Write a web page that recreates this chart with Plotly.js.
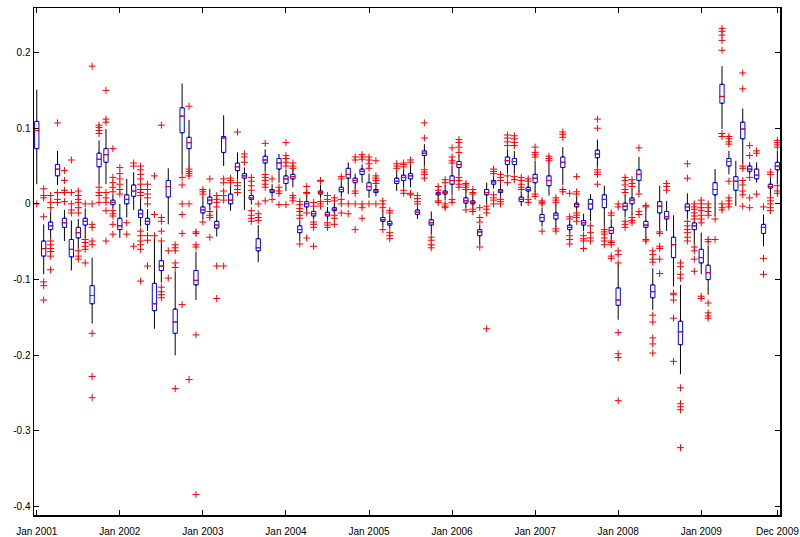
<!DOCTYPE html>
<html>
<head>
<meta charset="utf-8">
<script src="https://cdn.plot.ly/plotly-3.0.1.min.js"></script>
<style>html,body{margin:0;padding:0;background:#fff;}#chart{width:800px;height:537px;}</style>
</head>
<body>
<div id="chart"></div>
<script>
// Monthly box statistics, Jan 2001 (index 0) .. Dec 2009 (index 107)
const q1 = [0.073,-0.069,-0.034,0.037,-0.031,-0.070,-0.045,-0.028,-0.132,0.049,0.055,-0.001,
-0.034,0.000,0.010,-0.018,-0.027,-0.141,-0.088,0.009,-0.171,0.094,0.073,-0.107,
-0.012,0.000,-0.032,0.068,0.000,0.044,0.034,0.006,-0.062,0.054,0.015,0.046,
0.027,0.033,-0.038,-0.004,-0.016,0.013,-0.016,-0.009,0.016,0.034,0.028,0.039,
0.018,0.015,-0.023,-0.028,0.027,0.031,0.033,-0.014,0.064,-0.028,0.012,0.013,
0.026,0.048,0.001,0.000,-0.042,0.012,0.026,0.015,0.052,0.052,0.003,0.017,
0.028,-0.023,0.024,-0.020,0.048,-0.034,-0.004,-0.028,-0.007,0.061,-0.005,-0.039,
-0.134,-0.008,0.000,0.031,-0.031,-0.124,-0.012,-0.020,-0.071,-0.186,-0.009,-0.034,
-0.078,-0.100,0.012,0.133,0.050,0.018,0.086,0.043,0.033,-0.039,0.021,0.045];
const median = [0.097,-0.059,-0.029,0.046,-0.025,-0.060,-0.038,-0.023,-0.121,0.059,0.065,0.002,
-0.029,0.006,0.017,-0.013,-0.023,-0.132,-0.082,0.023,-0.156,0.116,0.081,-0.101,
-0.008,0.005,-0.028,0.087,0.005,0.049,0.037,0.008,-0.058,0.058,0.017,0.054,
0.033,0.036,-0.034,0.000,-0.013,0.015,-0.014,-0.007,0.019,0.039,0.031,0.043,
0.023,0.017,-0.021,-0.026,0.030,0.035,0.037,-0.011,0.067,-0.025,0.013,0.015,
0.031,0.052,0.004,0.002,-0.037,0.015,0.029,0.017,0.057,0.056,0.006,0.019,
0.034,-0.018,0.031,-0.015,0.055,-0.031,-0.001,-0.025,0.000,0.066,0.006,-0.035,
-0.127,-0.003,0.005,0.039,-0.028,-0.116,-0.003,-0.017,-0.054,-0.169,-0.004,-0.029,
-0.071,-0.091,0.019,0.142,0.056,0.030,0.099,0.046,0.038,-0.031,0.023,0.050];
const q3 = [0.109,-0.049,-0.024,0.052,-0.019,-0.047,-0.031,-0.019,-0.108,0.067,0.073,0.005,
-0.019,0.012,0.025,-0.008,-0.019,-0.105,-0.075,0.031,-0.139,0.127,0.088,-0.088,
-0.004,0.009,-0.023,0.089,0.013,0.054,0.040,0.011,-0.046,0.063,0.019,0.060,
0.037,0.039,-0.029,0.003,-0.010,0.017,-0.011,-0.005,0.022,0.047,0.034,0.046,
0.028,0.019,-0.018,-0.023,0.034,0.038,0.040,-0.008,0.070,-0.021,0.015,0.017,
0.037,0.056,0.008,0.004,-0.034,0.019,0.031,0.019,0.062,0.060,0.009,0.022,
0.039,-0.014,0.037,-0.012,0.062,-0.028,0.001,-0.022,0.006,0.071,0.012,-0.031,
-0.111,0.001,0.008,0.045,-0.023,-0.107,0.003,-0.010,-0.044,-0.155,0.000,-0.025,
-0.060,-0.081,0.028,0.158,0.060,0.036,0.108,0.050,0.046,-0.027,0.026,0.055];
const lowerWhisker = [0.026,-0.093,-0.045,0.025,-0.049,-0.088,-0.058,-0.045,-0.158,0.026,0.026,-0.006,
-0.045,-0.018,-0.008,-0.030,-0.036,-0.165,-0.104,-0.027,-0.200,0.039,0.048,-0.127,
-0.020,-0.008,-0.043,0.050,-0.009,0.030,-0.008,-0.001,-0.077,0.043,0.010,0.028,
0.017,0.022,-0.049,-0.010,-0.020,0.008,-0.022,-0.013,0.010,0.013,0.020,0.028,
0.008,0.010,-0.030,-0.033,0.017,0.020,0.022,-0.020,0.050,-0.040,0.006,0.005,
0.011,0.038,-0.005,-0.005,-0.054,0.000,0.020,0.008,0.040,0.040,-0.003,0.008,
0.015,-0.030,0.011,-0.031,0.025,-0.040,-0.010,-0.036,-0.023,0.048,-0.030,-0.046,
-0.153,-0.018,-0.015,0.015,-0.045,-0.140,-0.036,-0.036,-0.109,-0.225,-0.020,-0.053,
-0.093,-0.120,-0.016,0.099,0.039,-0.003,0.053,0.039,0.028,-0.056,0.010,0.026];
const upperWhisker = [0.151,-0.027,-0.010,0.070,-0.008,-0.022,-0.020,-0.006,-0.071,0.084,0.099,0.012,
0.000,0.033,0.042,0.008,-0.007,-0.045,-0.050,0.047,-0.089,0.159,0.111,-0.063,
0.010,0.020,-0.008,0.117,0.025,0.068,0.048,0.016,-0.028,0.072,0.026,0.066,
0.045,0.046,-0.022,0.012,-0.005,0.025,-0.004,0.001,0.030,0.055,0.040,0.052,
0.040,0.025,-0.008,-0.015,0.045,0.046,0.052,-0.003,0.079,-0.010,0.017,0.025,
0.050,0.065,0.018,0.010,-0.028,0.028,0.038,0.028,0.072,0.070,0.016,0.028,
0.057,-0.005,0.055,0.000,0.075,-0.022,0.010,-0.013,0.013,0.085,0.024,-0.020,
-0.080,0.012,0.020,0.062,-0.006,-0.085,0.024,0.004,-0.015,-0.107,0.014,-0.022,
-0.038,-0.055,0.046,0.182,0.070,0.057,0.126,0.055,0.055,-0.014,0.035,0.070];
const outliers = [
[0.000],
[0.020,0.011,0.008,-0.017,-0.103,-0.108,-0.127],
[0.011,0.002,-0.005,-0.049,-0.054,-0.059,-0.063,-0.069,-0.087],
[0.107,0.015,0.006,0.002],
[0.044,0.031,0.018,0.015,0.003],
[0.058,0.015,0.000,-0.008,-0.012],
[0.017,0.011,0.006,0.002,-0.005,-0.012,-0.062,-0.069,-0.073],
[0.000,-0.047,-0.051,-0.056,-0.060,-0.078],
[0.182,0.000,-0.027,-0.031,-0.049,-0.054,-0.171,-0.228,-0.256],
[0.104,0.101,0.097,0.093,0.022,0.015,0.011,0.002],
[0.150,0.112,0.108,0.015,0.008,0.002,-0.009,-0.049],
[0.073,0.035,0.028,0.022,0.016,-0.009,-0.013,-0.016,-0.027,-0.040],
[0.048,0.040,0.033,0.026,0.019,0.013],
[-0.025,-0.040],
[0.054,0.050,-0.056],
[0.050,0.045,0.039,0.033,0.026,0.019,0.015,0.011,-0.036,-0.042,-0.049,-0.054,-0.060,-0.102],
[0.026,0.019,0.013,0.008,0.000,-0.042,-0.048,-0.082],
[0.037,-0.014,-0.042],
[0.104,-0.018,-0.023,-0.036,-0.049,-0.110,-0.116,-0.120,-0.124],
[-0.062,-0.098],
[-0.054,-0.058,-0.062,-0.078,-0.084,-0.244],
[0.035,0.025,0.000,-0.014,-0.039,-0.133],
[0.129,0.046,0.043,0.040,0.037,0.000,-0.232],
[-0.037,-0.039,-0.054,-0.057,-0.173,-0.384],
[0.019,0.016,0.013,-0.024],
[0.033,-0.010,-0.015,-0.018,-0.044],
[0.011,0.006,0.002,-0.004,-0.082,-0.125],
[0.033,0.028,0.017,0.011,0.005,-0.082],
[0.034,0.031,0.028],
[0.095,0.028,0.024,0.019,0.015],
[0.066,0.062,0.055],
[0.035,0.030,0.024,0.018,-0.009,-0.015,-0.019,-0.023],
[0.000,-0.013,-0.018,-0.022],
[0.080,0.039,0.035,0.031,0.026,0.022,0.004],
[0.033,0.006],
[0.022,0.017,0.014,-0.001],
[0.081,0.064,0.060,0.055,0.050,-0.001],
[0.054,0.050,0.047,0.011,0.008,0.004],
[0.003,-0.001,-0.006,-0.010,-0.015,-0.019,-0.053],
[0.023,0.015,0.014,-0.012,-0.045],
[0.002,-0.003,-0.024,-0.027,-0.031,-0.056],
[0.031,0.030,0.003,0.000,-0.003],
[0.011,0.006,0.003,-0.025,-0.028,-0.031],
[0.008,0.004,-0.015,-0.019,-0.027],
[0.036,0.033,0.006,0.000,-0.012],
[0.000,-0.013],
[0.062,0.058,0.017,0.014,0.000,-0.034],
[0.065,0.062,0.059,0.000,-0.005,-0.019],
[0.062,0.058,0.053,0.047,0.000],
[0.057,0.037,0.034,0.031,0.027,0.000],
[0.004,0.000,-0.005,-0.034],
[-0.009,-0.012,-0.038,-0.042,-0.046],
[0.050,0.047,0.053],
[0.054,0.052,0.049,0.018,0.014],
[0.058,0.055,0.014,0.012],
[0.011,0.007,0.003,0.000],
[0.107,0.087,0.045,0.042,0.039,0.034],
[-0.044,-0.048,-0.054,-0.058],
[0.023,0.018,0.004,0.002],
[0.032,0.028,0.000,-0.003,-0.005],
[0.074,0.062,0.057,0.054,0.006,0.002],
[0.085,0.081,0.075,0.068,0.035,0.031,0.026,0.022],
[0.027,0.025,0.022,0.019,-0.008],
[0.019,0.015,0.013,-0.007,-0.010],
[-0.005,-0.018,-0.024,-0.057],
[-0.003,-0.007,-0.012,-0.165],
[0.046,0.043,0.040,0.012,0.008,0.005,0.000],
[0.039,0.035,0.031,0.006,0.003,0.000],
[0.091,0.087,0.082,0.077,0.037,0.028],
[0.090,0.086,0.081,0.077,0.036,0.032],
[0.035,0.031,0.026,0.022,0.019],
[0.033,0.030,0.006,0.002],
[0.075,0.068,0.065,0.062,0.013,0.010],
[0.004,0.002,0.000,-0.036],
[0.063,0.060,0.057],
[0.008,0.005,0.002,-0.033,-0.036],
[0.095,0.092,0.088,0.019,0.016],
[0.014,-0.017,-0.020,-0.042,-0.047,-0.053],
[0.036,0.016,0.013,-0.012,-0.015,-0.018,-0.023],
[-0.042,-0.046,-0.049,-0.059],
[-0.029,-0.038,-0.045,-0.049],
[0.112,0.100,0.045,0.042,0.039,0.026],
[-0.034,-0.037,-0.040,-0.045,-0.049,-0.054],
[-0.012,-0.015,-0.049,-0.051,-0.054,-0.069,-0.072],
[0.000,-0.004,-0.062,-0.067,-0.078,-0.170,-0.198,-0.203,-0.260],
[0.035,0.031,0.025,0.019,0.015,-0.023,-0.027,-0.031],
[0.032,0.027,0.023,-0.018,-0.022,-0.025],
[0.074,0.013,-0.010,-0.014],
[-0.002,-0.004,-0.047,-0.049],
[-0.062,-0.067,-0.073,-0.077,-0.147,-0.156,-0.177,-0.185,-0.197],
[-0.037,-0.039,-0.056,-0.059,-0.073,-0.092],
[0.027,0.023,0.018],
[-0.118,-0.120,-0.127,-0.151,-0.208],
[-0.078,-0.083,-0.093,-0.098,-0.243,-0.264,-0.268,-0.272,-0.322],
[0.053,0.034,-0.023,-0.029,-0.034,-0.038,-0.044,-0.049],
[0.000,-0.004,-0.007,-0.012,-0.016,-0.020,-0.057,-0.062,-0.073,-0.089],
[0.005,0.000,-0.005,-0.009,-0.015,-0.020,-0.025,-0.122,-0.125],
[0.000,-0.005,-0.010,-0.015,-0.047,-0.050,-0.131,-0.144,-0.148,-0.151],
[-0.020,-0.047],
[0.232,0.228,0.223,0.216,0.203,0.093,0.089,0.000,-0.005,-0.008],
[0.089,0.086,0.082,0.079,0.030,0.008,0.004,0.000,-0.004],
[],
[0.173,0.152,0.050,0.047,0.031,0.025,0.017,0.012,-0.003],
[0.077,0.064,0.035,0.008,-0.005],
[0.070,0.067,0.013],
[-0.004,-0.072,-0.093],
[0.042,0.039,0.008,0.004,0.000,-0.005,-0.009],
[0.084,0.081,0.078,0.075,0.024,0.017,0.014]
];
const xTickIndex = [0,12,24,36,48,60,72,84,96,107];
const xTickLabels = ['Jan 2001','Jan 2002','Jan 2003','Jan 2004','Jan 2005','Jan 2006','Jan 2007','Jan 2008','Jan 2009','Dec 2009'];
const yTickValues = [-0.4,-0.3,-0.2,-0.1,0,0.1,0.2];
const yTickLabels = ['-0.4','-0.3','-0.2','-0.1','0','0.1','0.2'];

const idx = q1.map((_, i) => i);
const wx = [], wy = [];
idx.forEach(i => {
  wx.push(i, i, null, i, i, null);
  wy.push(lowerWhisker[i], q1[i], null, q3[i], upperWhisker[i], null);
});
const ox = [], oy = [];
outliers.forEach((arr, i) => arr.forEach(v => { ox.push(i); oy.push(v); }));

const traces = [
  {type:'scatter', mode:'lines', x:wx, y:wy, line:{color:'#000', width:1}, hoverinfo:'skip', showlegend:false},
  {type:'box', x:idx, q1:q1, median:median, q3:q3, lowerfence:q1, upperfence:q3,
   width:0.62, line:{color:'#0000ff', width:1}, fillcolor:'#ffffff', boxpoints:false, hoverinfo:'skip', showlegend:false},
  {type:'scatter', mode:'markers', x:idx, y:median,
   marker:{symbol:'line-ew', size:4, line:{color:'#ff0000', width:1}}, hoverinfo:'skip', showlegend:false},
  {type:'scatter', mode:'markers', x:ox, y:oy,
   marker:{symbol:'cross-thin', size:5, color:'#ff0000', line:{color:'#ff0000', width:1}}, hoverinfo:'skip', showlegend:false}
];

const axisCommon = {
  showline:true, linecolor:'#000', linewidth:1.5, mirror:'ticks',
  ticks:'inside', ticklen:5, tickcolor:'#000', tickwidth:1,
  showgrid:false, zeroline:false,
  tickfont:{family:'Liberation Sans, Arial, sans-serif', size:10, color:'#000'}
};
const layout = {
  width:800, height:537,
  margin:{l:34, r:20, t:8, b:22},
  paper_bgcolor:'#fff', plot_bgcolor:'#fff',
  showlegend:false,
  xaxis:Object.assign({}, axisCommon, {range:[-0.40, 107.38], tickmode:'array', tickvals:xTickIndex, ticktext:xTickLabels, ticklabelstandoff:6}),
  yaxis:Object.assign({}, axisCommon, {range:[-0.411, 0.2588], tickmode:'array', tickvals:yTickValues, ticktext:yTickLabels})
};
Plotly.newPlot('chart', traces, layout, {staticPlot:true, displayModeBar:false});
</script>
</body>
</html>
